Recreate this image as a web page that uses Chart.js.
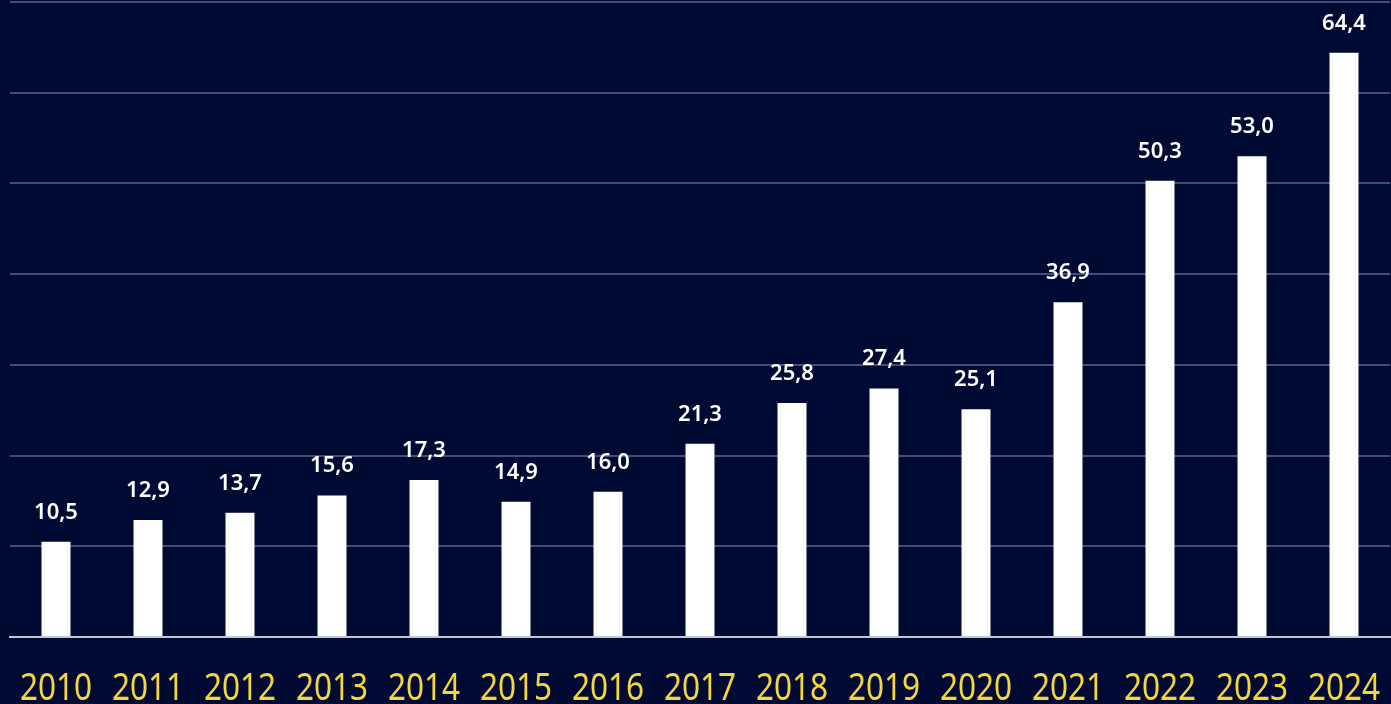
<!DOCTYPE html>
<html>
<head>
<meta charset="utf-8">
<script src="https://cdn.jsdelivr.net/npm/chart.js@4"></script>
<style>
html,body{margin:0;padding:0;background:#000a33;}
#wrap{width:1391px;height:704px;position:relative;}
</style>
</head>
<body>
<div id="wrap"><canvas id="c" width="1391" height="704"></canvas></div>
<script>
const years = ["2010","2011","2012","2013","2014","2015","2016","2017","2018","2019","2020","2021","2022","2023","2024"];
const values = [10.5,12.9,13.7,15.6,17.3,14.9,16.0,21.3,25.8,27.4,25.1,36.9,50.3,53.0,64.4];
const yMin = 0, yMax = 70, yStep = 10;

const labelPlugin = {
  id: 'valueLabels',
  afterDatasetsDraw(chart) {
    const ctx = chart.ctx;
    const meta = chart.getDatasetMeta(0);
    ctx.save();
    ctx.fillStyle = '#ffffff';
    ctx.font = '600 22px "Noto Sans"';
    ctx.textAlign = 'center';
    ctx.textBaseline = 'alphabetic';
    meta.data.forEach((bar, i) => {
      const txt = values[i].toFixed(1).replace('.', ',');
      ctx.fillText(txt, bar.x, bar.y - 23);
    });
    ctx.restore();
  }
};

// x-axis category labels, drawn slightly condensed at the scale's tick positions
const yearLabelPlugin = {
  id: 'yearLabels',
  afterDraw(chart) {
    const ctx = chart.ctx;
    const xs = chart.scales.x;
    const sx = 0.83;
    ctx.save();
    ctx.fillStyle = '#f5d63d';
    ctx.font = '38px "Noto Sans"';
    ctx.textAlign = 'center';
    ctx.textBaseline = 'alphabetic';
    years.forEach((lab, i) => {
      const x = xs.getPixelForTick(i);
      ctx.save();
      ctx.translate(x, 700);
      ctx.scale(sx, 1);
      ctx.fillText(lab, 0, 0);
      ctx.restore();
    });
    ctx.restore();
  }
};

new Chart(document.getElementById('c'), {
  type: 'bar',
  data: {
    labels: years,
    datasets: [{
      data: values,
      backgroundColor: '#ffffff',
      borderWidth: 0,
      barPercentage: 0.315,
      categoryPercentage: 1.0
    }]
  },
  options: {
    responsive: false,
    animation: false,
    layout: { padding: { left: 10, right: 1, top: 2, bottom: 0 } },
    plugins: { legend: { display: false }, tooltip: { enabled: false } },
    scales: {
      x: {
        grid: { display: false, drawTicks: false },
        border: { display: true, color: '#c4c6d0', width: 2 },
        ticks: { display: false, autoSkip: false, maxRotation: 0 },
        afterFit(scale) {
          scale.height = 67;
          scale.paddingLeft = 0;
          scale.paddingRight = 0;
        }
      },
      y: {
        min: yMin, max: yMax,
        ticks: { display: false, stepSize: yStep },
        grid: { color: 'rgba(150,160,200,0.45)', lineWidth: 2, drawTicks: false },
        border: { display: false },
        afterFit(scale) {
          scale.width = 0;
          scale.paddingTop = 0;
          scale.paddingBottom = 0;
        }
      }
    }
  },
  plugins: [labelPlugin, yearLabelPlugin]
});
</script>
</body>
</html>
